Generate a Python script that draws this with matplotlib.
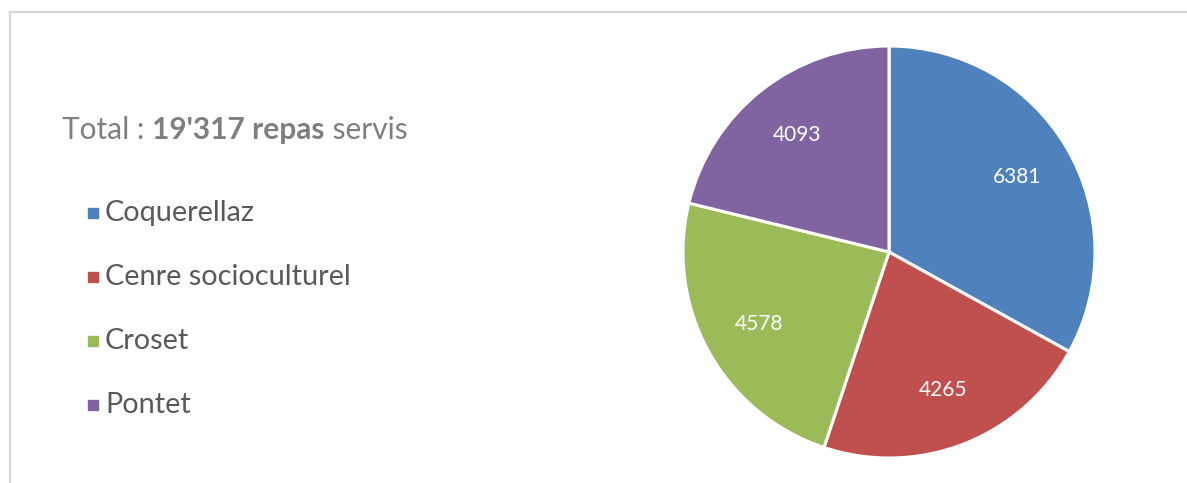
import matplotlib
matplotlib.use("Agg")
import matplotlib.pyplot as plt
from matplotlib.lines import Line2D

# données
sites = ["Coquerellaz", "Cenre socioculturel", "Croset", "Pontet"]
repas = [6381, 4265, 4578, 4093]
couleurs = ["#4F81BD", "#C0504D", "#9BBB59", "#8064A2"]
total_txt = "19'317 repas"

plt.rcParams["font.family"] = ["Lato", "DejaVu Sans"]

W, H = 1187, 483
fig = plt.figure(figsize=(W / 100, H / 100), dpi=100)

# cadre gris (haut + gauche)
bord = "#D9D9D9"
fig.add_artist(Line2D([10 / W, 1], [1 - 12 / H, 1 - 12 / H], color=bord, lw=1.6))
fig.add_artist(Line2D([10 / W, 10 / W], [0, 1 - 12 / H], color=bord, lw=1.6))

# camembert
cx, cy, r = 889, 252, 206
ax = fig.add_axes([(cx - r) / W, (H - cy - r) / H, 2 * r / W, 2 * r / H])
wedges, _, autotexts = ax.pie(
    repas, colors=couleurs, startangle=90, counterclock=False,
    autopct=lambda p: "%d" % round(p * sum(repas) / 100),
    pctdistance=0.72, radius=1,
    wedgeprops=dict(edgecolor="white", linewidth=2.2, clip_on=False),
    textprops=dict(color="white", fontsize=15),
)
ax.set_xlim(-1, 1)
ax.set_ylim(-1, 1)
ax.set_aspect("equal")
ax.axis("off")

# titre "Total : 19'317 repas servis" (partie en gras)
fig.canvas.draw()
renderer = fig.canvas.get_renderer()
x = 62 / W
y = 1 - 130 / H
for morceau, poids in [("Total : ", "normal"), (total_txt, "bold"), (" servis", "normal")]:
    t = fig.text(x, y, morceau, fontsize=21.5, color="#7F7F7F", fontweight=poids,
                 va="center", ha="left")
    bb = t.get_window_extent(renderer)
    x += bb.width / W

# légende
lignes_y = [213, 277, 341, 405]
for nom, c, yy in zip(sites, couleurs, lignes_y):
    fig.add_artist(Line2D([93 / W], [1 - yy / H], marker="s", markersize=6.5,
                          color=c, linestyle="none"))
    fig.text(105 / W, 1 - yy / H, nom, fontsize=20.8, color="#595959",
             va="center", ha="left")

fig.savefig("out.png", dpi=100, facecolor="white")
